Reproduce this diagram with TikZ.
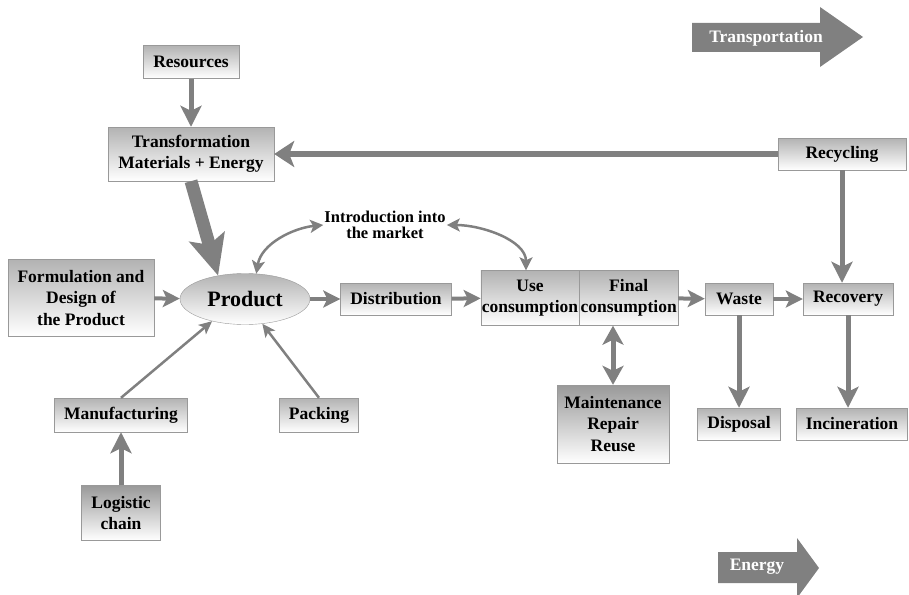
\documentclass[tikz,border=0pt]{standalone}
\usepackage{fontspec}
\setmainfont{Liberation Serif}
\usetikzlibrary{arrows.meta,positioning,shapes.geometric}

\begin{document}
\begin{tikzpicture}[
  x=1pt, y=-1pt,
  box/.style={draw=black!40, top color=black!30, bottom color=white, align=center, inner sep=1pt, font=\fontsize{17.5}{21.5}\selectfont\bfseries},
  darkbox/.style={box, top color=black!40},
  flow/.style={draw=black!50, line width=4pt, -{Stealth[length=17pt, width=17pt, inset=4pt]}},
  vflow/.style={draw=black!50, line width=5pt, -{Stealth[length=21pt, width=21pt, inset=5pt]}},
  heavy/.style={draw=black!50, line width=13pt, -{Stealth[length=40pt, width=36pt, inset=8pt]}},
  back/.style={draw=black!50, line width=6pt, -{Stealth[length=20pt, width=26pt, inset=5pt]}},
  thin/.style={draw=black!50, line width=2.5pt, -{Stealth[length=13pt, width=12pt, inset=3pt]}},
  curve/.style={draw=black!50, line width=2.5pt, {Stealth[length=13pt, width=13pt, inset=3pt]}-{Stealth[length=13pt, width=13pt, inset=3pt]}},
  twoway/.style={draw=black!50, line width=5pt, {Stealth[length=19pt, width=21pt, inset=5pt]}-{Stealth[length=19pt, width=21pt, inset=5pt]}},
  banner/.style={text=white, font=\fontsize{17.5}{20}\selectfont\bfseries}
]
\useasboundingbox (0,0) rectangle (909,594);

% big grey arrows
\fill[black!50] (692,23) -- (820,23) -- (820,7) -- (863,37) -- (820,67) -- (820,52) -- (692,52) -- cycle;
\node[banner] (transport) at (766,38) {Transportation};
\fill[black!50] (718,552) -- (797,552) -- (797,538) -- (819,568) -- (797,598) -- (797,583) -- (718,583) -- cycle;
\node[banner] (energy) at (757,567) {Energy};

% boxes
\node[box, minimum width=96pt, minimum height=33pt] (res) at (191,62) {Resources};
\node[box, minimum width=166pt, minimum height=54pt] (trans) at (191,154) {Transformation\\Materials + Energy};
\node[box, minimum width=128pt, minimum height=32pt] (recy) at (842,154) {Recycling};
\node[box, minimum width=146pt, minimum height=77pt] (form) at (81,298) {Formulation and\\Design of\\the Product};
\node[ellipse, draw=black!40, top color=black!30, bottom color=white, minimum width=130pt, minimum height=51pt,
  font=\fontsize{22}{24}\selectfont\bfseries] (prod) at (245,299) {Product};
\node[box, minimum width=111pt, minimum height=32pt] (dist) at (396,299) {Distribution};
\node[box, minimum width=97pt, minimum height=55pt] (use) at (530,298) {Use\\consumption};
\node[box, minimum width=98pt, minimum height=55pt, right=0pt of use] (final) {Final\\consumption};
\node[box, minimum width=68pt, minimum height=32pt] (waste) at (739,299) {Waste};
\node[box, minimum width=90pt, minimum height=32pt] (reco) at (848,299) {Recovery};
\node[box, minimum width=133pt, minimum height=34pt] (manu) at (121,415) {Manufacturing};
\node[box, minimum width=79pt, minimum height=34pt] (pack) at (319,415) {Packing};
\node[darkbox, minimum width=79pt, minimum height=55pt] (logi) at (121,513) {Logistic\\chain};
\node[darkbox, minimum width=112pt, minimum height=78pt] (maint) at (613,424) {Maintenance\\Repair\\Reuse};
\node[box, minimum width=83pt, minimum height=32pt] (disp) at (739,424) {Disposal};
\node[box, minimum width=111pt, minimum height=32pt] (inc) at (852,424) {Incineration};
\node[align=center, inner sep=1pt, font=\fontsize{16.5}{16}\selectfont\bfseries] (intro) at (385,225) {Introduction into\\the market};

% connectors
\draw[vflow] (res) -- (trans);
\draw[back] (recy) -- (trans);
\draw[heavy] (trans.south) -- (prod.139);
\draw[flow] (form) -- (prod);
\draw[flow] (prod) -- (dist);
\draw[flow] (dist) -- (use);
\draw[flow] (final) -- (waste);
\draw[flow] (waste) -- (reco);
\draw[vflow] (recy.south) -- (recy.south |- reco.north);
\draw[vflow] (waste) -- (disp);
\draw[vflow] (reco.south) -- (reco.south |- inc.north);
\draw[thin] (manu.north) -- (prod.214);
\draw[thin] (pack.north) -- (prod.305);
\draw[vflow] (logi) -- (manu);
\draw[twoway] (maint.north) -- (maint.north |- final.south);
\draw[curve] (prod.66) .. controls +(5,-30) and +(-30,3) .. (intro.west);
\draw[curve] (intro.east) .. controls +(35,0) and +(0,-30) .. ([xshift=-4pt]use.north);
\end{tikzpicture}
\end{document}
